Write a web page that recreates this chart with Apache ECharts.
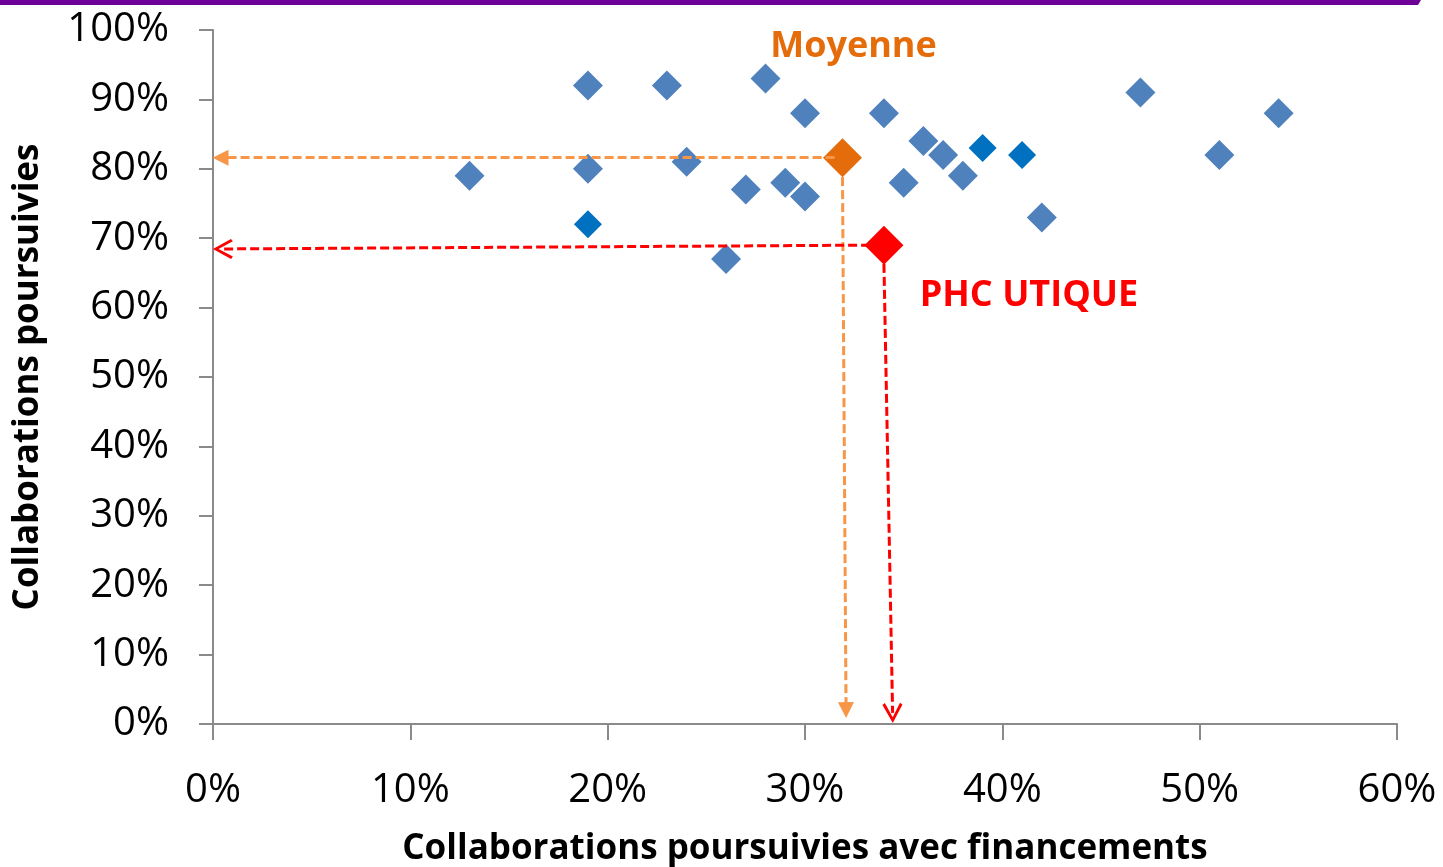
<!DOCTYPE html>
<html>
<head>
<meta charset="utf-8">
<script src="https://cdn.jsdelivr.net/npm/echarts@6/dist/echarts.min.js"></script>
<style>
  html, body { margin: 0; padding: 0; background: #fff; }
  #chart { width: 1443px; height: 867px; }
</style>
</head>
<body>
<div id="chart"></div>
<script>
// points (percent)
var pointsX = [13, 19, 19, 23, 24, 26, 27, 28, 29, 30, 30, 34, 35, 36, 37, 38, 42, 47, 51, 54];
var pointsY = [79, 92, 80, 92, 81, 67, 77, 93, 78, 88, 76, 88, 78, 84, 82, 79, 73, 91, 82, 88];
// the three darker blue points
var darkX = [19, 39, 41];
var darkY = [72, 83, 82];
// average and highlighted programme
var moyenne = [31.9, 81.6];
var phc = [34, 69];
var xTicks = [0, 10, 20, 30, 40, 50, 60];
var yTicks = [0, 10, 20, 30, 40, 50, 60, 70, 80, 90, 100];

var FONT = 'Open Sans';
var chevron = 'path://M10,0 L20,16 L17.6,17.6 L10,5 L2.4,17.6 L0,16 Z';

function zip(xs, ys) {
    var out = [];
    for (var i = 0; i < xs.length; i++) {
        out.push([xs[i], ys[i]]);
    }
    return out;
}

var myChart = echarts.init(document.getElementById('chart'));
var options = {
    animation: false,
    backgroundColor: '#fff',
    graphic: [{
        type: 'polygon',
        shape: { points: [[0, 0], [1421, 0], [1418, 5], [0, 5]] },
        style: { fill: '#6C0097' }
    }],
    grid: { left: 213, right: 46, top: 30, bottom: 143, containLabel: false, outerBoundsMode: 'none' },
    xAxis: {
        type: 'value',
        min: xTicks[0],
        max: xTicks[xTicks.length - 1],
        interval: 10,
        name: 'Collaborations poursuivies avec financements',
        nameLocation: 'middle',
        nameGap: 108,
        nameTextStyle: { fontFamily: FONT, fontWeight: 'bold', fontSize: 35, color: '#000' },
        axisLine: { lineStyle: { color: '#8a8a8a', width: 2 } },
        axisTick: { length: 16, lineStyle: { color: '#8a8a8a', width: 2 } },
        splitLine: { show: false },
        axisLabel: {
            margin: 47,
            fontFamily: FONT, fontSize: 40, color: '#000',
            formatter: function (v) { return v + '%'; }
        }
    },
    yAxis: {
        type: 'value',
        min: yTicks[0],
        max: yTicks[yTicks.length - 1],
        interval: 10,
        name: 'Collaborations poursuivies',
        nameLocation: 'middle',
        nameRotate: 90,
        nameGap: 167,
        nameTextStyle: { fontFamily: FONT, fontWeight: 'bold', fontSize: 35, color: '#000' },
        axisLine: { show: true, lineStyle: { color: '#8a8a8a', width: 2 } },
        axisTick: { show: true, length: 14, lineStyle: { color: '#8a8a8a', width: 2 } },
        splitLine: { show: false },
        axisLabel: {
            margin: 44,
            fontFamily: FONT, fontSize: 40, color: '#000',
            formatter: function (v) { return v + '%'; }
        }
    },
    series: [
        {
            name: 'points',
            type: 'scatter',
            symbol: 'diamond',
            symbolSize: 30,
            itemStyle: { color: '#4F81BD', opacity: 1 },
            data: zip(pointsX, pointsY),
            z: 2
        },
        {
            name: 'dark',
            type: 'scatter',
            symbol: 'diamond',
            symbolSize: 28,
            itemStyle: { color: '#0070C0', opacity: 1 },
            data: zip(darkX, darkY),
            z: 2
        },
        {
            name: 'Moyenne',
            type: 'scatter',
            symbol: 'diamond',
            symbolSize: 39,
            itemStyle: { color: '#E46C0A', opacity: 1 },
            label: {
                show: true,
                position: 'inside',
                offset: [11, -111],
                formatter: 'Moyenne',
                fontFamily: FONT, fontWeight: 'bold', fontSize: 36, color: '#E46C0A'
            },
            data: [moyenne],
            z: 4,
            markLine: {
                silent: true,
                animation: false,
                label: { show: false },
                lineStyle: { color: '#F79646', width: 3, type: [9, 4], opacity: 1 },
                symbol: ['none', 'triangle'],
                symbolSize: 16,
                data: [
                    [{ coord: [31.5, moyenne[1]] }, { coord: [0.38, moyenne[1]] }],
                    [{ coord: [moyenne[0], 78.8] }, { coord: [32.08, 2.0] }]
                ]
            }
        },
        {
            name: 'PHC UTIQUE',
            type: 'scatter',
            symbol: 'diamond',
            symbolSize: 39,
            itemStyle: { color: '#FF0000', opacity: 1 },
            label: {
                show: true,
                position: 'inside',
                offset: [145, 51],
                formatter: 'PHC UTIQUE',
                fontFamily: FONT, fontWeight: 'bold', fontSize: 36, color: '#FF0000'
            },
            data: [phc],
            z: 4,
            markLine: {
                silent: true,
                animation: false,
                label: { show: false },
                lineStyle: { color: '#FF0000', width: 3, type: [9, 4], opacity: 1 },
                symbol: ['none', chevron],
                symbolSize: 20,
                data: [
                    [{ coord: [33.3, phc[1]] }, { coord: [0.5, 68.45] }],
                    [{ coord: [phc[0], 66.3] }, { coord: [34.44, 1.6] }]
                ]
            }
        }
    ]
};
myChart.setOption(options, true);
</script>
</body>
</html>
